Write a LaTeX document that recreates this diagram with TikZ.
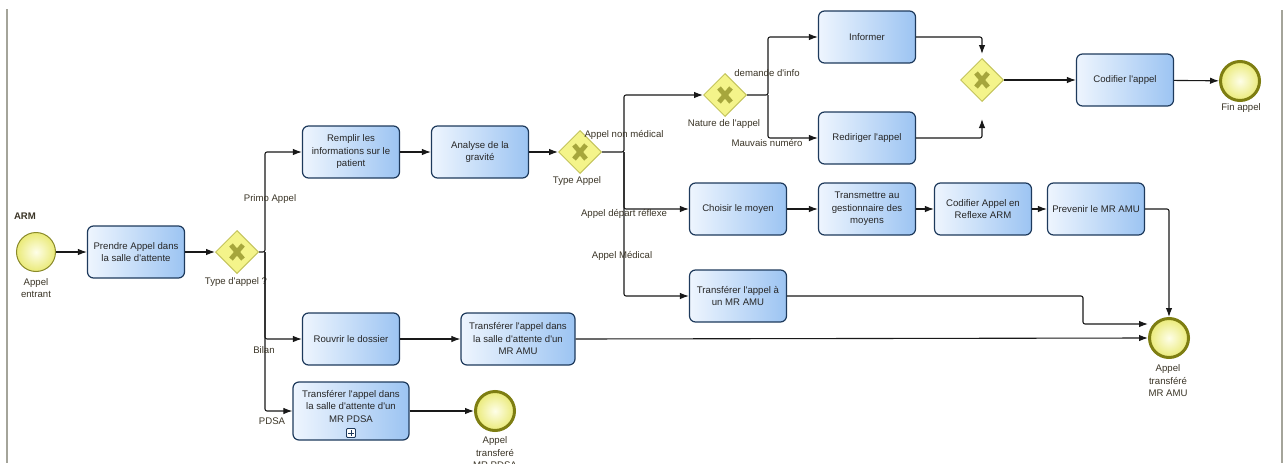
\documentclass[tikz,border=0pt]{standalone}
\usepackage{fontspec}
\setmainfont{Liberation Sans}
\usetikzlibrary{shapes.geometric,arrows.meta}
\newcommand{\q}{\textquotesingle{}}
\definecolor{taskL}{HTML}{EEF5FE}
\definecolor{taskR}{HTML}{9CC4F2}
\definecolor{taskB}{HTML}{1E3A5C}
\definecolor{gwF}{HTML}{F4F48A}
\definecolor{gwB}{HTML}{C4C45C}
\definecolor{gwX}{HTML}{A6A63C}
\definecolor{evIn}{HTML}{FEFEE8}
\definecolor{evOut}{HTML}{EAEA78}
\definecolor{evB}{HTML}{8A8A2A}
\definecolor{endB}{HTML}{7E7E12}
\definecolor{lblC}{HTML}{3A3426}
\definecolor{frameC}{HTML}{A4A49A}
\tikzset{
  txt/.style={font=\fontsize{9.6}{12.5}\selectfont, align=center, inner sep=0pt},
  lbl/.style={txt, text=lblC},
  task/.style={txt, draw=taskB, line width=1.2pt, rounded corners=6pt,
    left color=taskL, right color=taskR, minimum width=97pt, minimum height=52pt, text=black!85},
  gateway/.style={diamond, draw=gwB, fill=gwF, line width=1pt, minimum width=43pt,
    minimum height=43pt, inner sep=0pt,
    path picture={\draw[gwX, line width=4.8pt]
      ([shift={(-6pt,-7pt)}]path picture bounding box.center) -- ([shift={(6pt,7pt)}]path picture bounding box.center)
      ([shift={(-6pt,7pt)}]path picture bounding box.center) -- ([shift={(6pt,-7pt)}]path picture bounding box.center);}},
  startev/.style={circle, draw=evB, line width=1pt, inner color=evIn, outer color=evOut,
    minimum size=39pt, inner sep=0pt},
  endev/.style={circle, draw=endB, line width=3pt, inner color=evIn, outer color=evOut,
    minimum size=39pt, inner sep=0pt},
  flow/.style={draw=black!90, line width=1.1pt, -{Latex[length=9pt,width=6.5pt]}, rounded corners=2pt},
  frameline/.style={draw=frameC, line width=2pt}
}
\begin{document}
\begin{tikzpicture}[x=1pt,y=-1pt]
\useasboundingbox (0,0) rectangle (1284,463);
\draw[frameline] (7,9) -- (7,463);
\draw[frameline] (1282,10) -- (1282,463);

% nodes
\node[lbl, font=\fontsize{9.6}{12.5}\selectfont\bfseries] (arm) at (25,216) {ARM};
\node[startev] (start) at (36,252) {};
\node[lbl] (startL) at (36,288) {Appel\\entrant};
\node[task] (prendre) at (136,252) {Prendre Appel dans\\la salle d\q attente};
\node[gateway] (gwA) at (237,252) {};
\node[lbl] (gwAL) at (236,282) {Type d\q appel ?};
\coordinate (sA) at (265,252);

\node[task] (remplir) at (351,152) {Remplir les\\informations sur le\\patient};
\node[task] (analyse) at (480,152) {Analyse de la\\gravité};
\node[gateway] (gwB) at (580,152) {};
\node[lbl] (gwBL) at (577,181) {Type Appel};
\coordinate (sB) at (624,152);

\node[gateway] (gwC) at (725,95) {};
\node[lbl] (gwCL) at (724,124) {Nature de l\q appel};
\coordinate (sC) at (768,95);
\node[task] (informer) at (867,37) {Informer};
\node[task] (rediriger) at (867,138) {Rediriger l\q appel};
\node[gateway] (gwD) at (982,80) {};
\coordinate (gwDt) at (982,54);
\coordinate (gwDb) at (982,119);
\node[task] (codifier) at (1125,80) {Codifier l\q appel};
\node[endev] (fin) at (1240,81) {};
\node[lbl] (finL) at (1241,108) {Fin appel};

\node[task] (choisir) at (738,209) {Choisir le moyen};
\node[task] (transmettre) at (867,209) {Transmettre au\\gestionnaire des\\moyens};
\node[task] (codifR) at (983,209) {Codifier Appel en\\Reflexe ARM};
\node[task] (prevenir) at (1096,209) {Prevenir le MR AMU};
\node[task] (transAMU) at (738,296) {Transférer l\q appel à\\un MR AMU};
\coordinate (cAMU) at (1083,324);
\node[endev] (endAMU) at (1169,338) {};
\node[lbl] (endAMUL) at (1168,381) {Appel\\transféré\\MR AMU};

\node[task] (rouvrir) at (351,339) {Rouvrir le dossier};
\node[task, minimum width=114pt] (salleAMU) at (518,339) {Transférer l\q appel dans\\la salle d\q attente d\q un\\MR AMU};
\node[task, minimum width=116pt, minimum height=58pt] (pdsa) at (351,411) {Transférer l\q appel dans\\la salle d\q attente d\q un\\MR PDSA\\[-3pt]\mbox{}};
\node[draw=taskB, line width=0.8pt, fill=white, minimum size=9pt, inner sep=0pt, rounded corners=1pt] (pdsaplus) at (351,433) {};
\draw[taskB, line width=1pt] ([xshift=-2.8pt]pdsaplus.center) -- ([xshift=2.8pt]pdsaplus.center)
  ([yshift=-2.8pt]pdsaplus.center) -- ([yshift=2.8pt]pdsaplus.center);
\node[endev] (endPDSA) at (495,411) {};
\node[lbl] (endPDSAL) at (495,453) {Appel\\transferé\\MR PDSA};

% flows
\draw[flow] (start) -- (prendre);
\draw[flow] (prendre) -- (gwA);
\draw[flow] (gwA.east) -- (sA) |- (remplir.west);
\draw[flow] (sA) |- (rouvrir.west);
\draw[flow] (sA) |- (pdsa.west);
\draw[flow] (remplir) -- (analyse);
\draw[flow] (analyse) -- (gwB);
\draw[flow] (gwB.east) -- (sB) |- (gwC.west);
\draw[flow] (sB) |- (choisir.west);
\draw[flow] (sB) |- (transAMU.west);
\draw[flow] (gwC.east) -- (sC) |- (informer.west);
\draw[flow] (sC) |- (rediriger.west);
\draw[flow] (informer.east) -| (gwDt);
\draw[flow] (rediriger.east) -| (gwDb);
\draw[flow] (gwD) -- (codifier);
\draw[flow] (codifier) -- (fin);
\draw[flow] (choisir) -- (transmettre);
\draw[flow] (transmettre) -- (codifR);
\draw[flow] (codifR) -- (prevenir);
\draw[flow] (prevenir.east) -| (endAMU.north);
\draw[flow] (transAMU.east) -| (cAMU) -- (endAMU.west |- cAMU);
\draw[flow] (rouvrir) -- (salleAMU);
\draw[flow] (salleAMU.east) -- (endAMU.west);
\draw[flow] (pdsa) -- (endPDSA);

% flow labels
\node[lbl] (lPrimo) at (270,199) {Primo Appel};
\node[lbl] (lBilan) at (264,350) {Bilan};
\node[lbl] (lPDSA) at (272,421) {PDSA};
\node[lbl] (lNonMed) at (624,135) {Appel non médical};
\node[lbl] (lReflexe) at (624,214) {Appel départ réflexe};
\node[lbl] (lMed) at (622,256) {Appel Médical};
\node[lbl] (lInfo) at (767,73) {demande d\q info};
\node[lbl] (lMauvais) at (767,143) {Mauvais numéro};
\end{tikzpicture}
\end{document}
